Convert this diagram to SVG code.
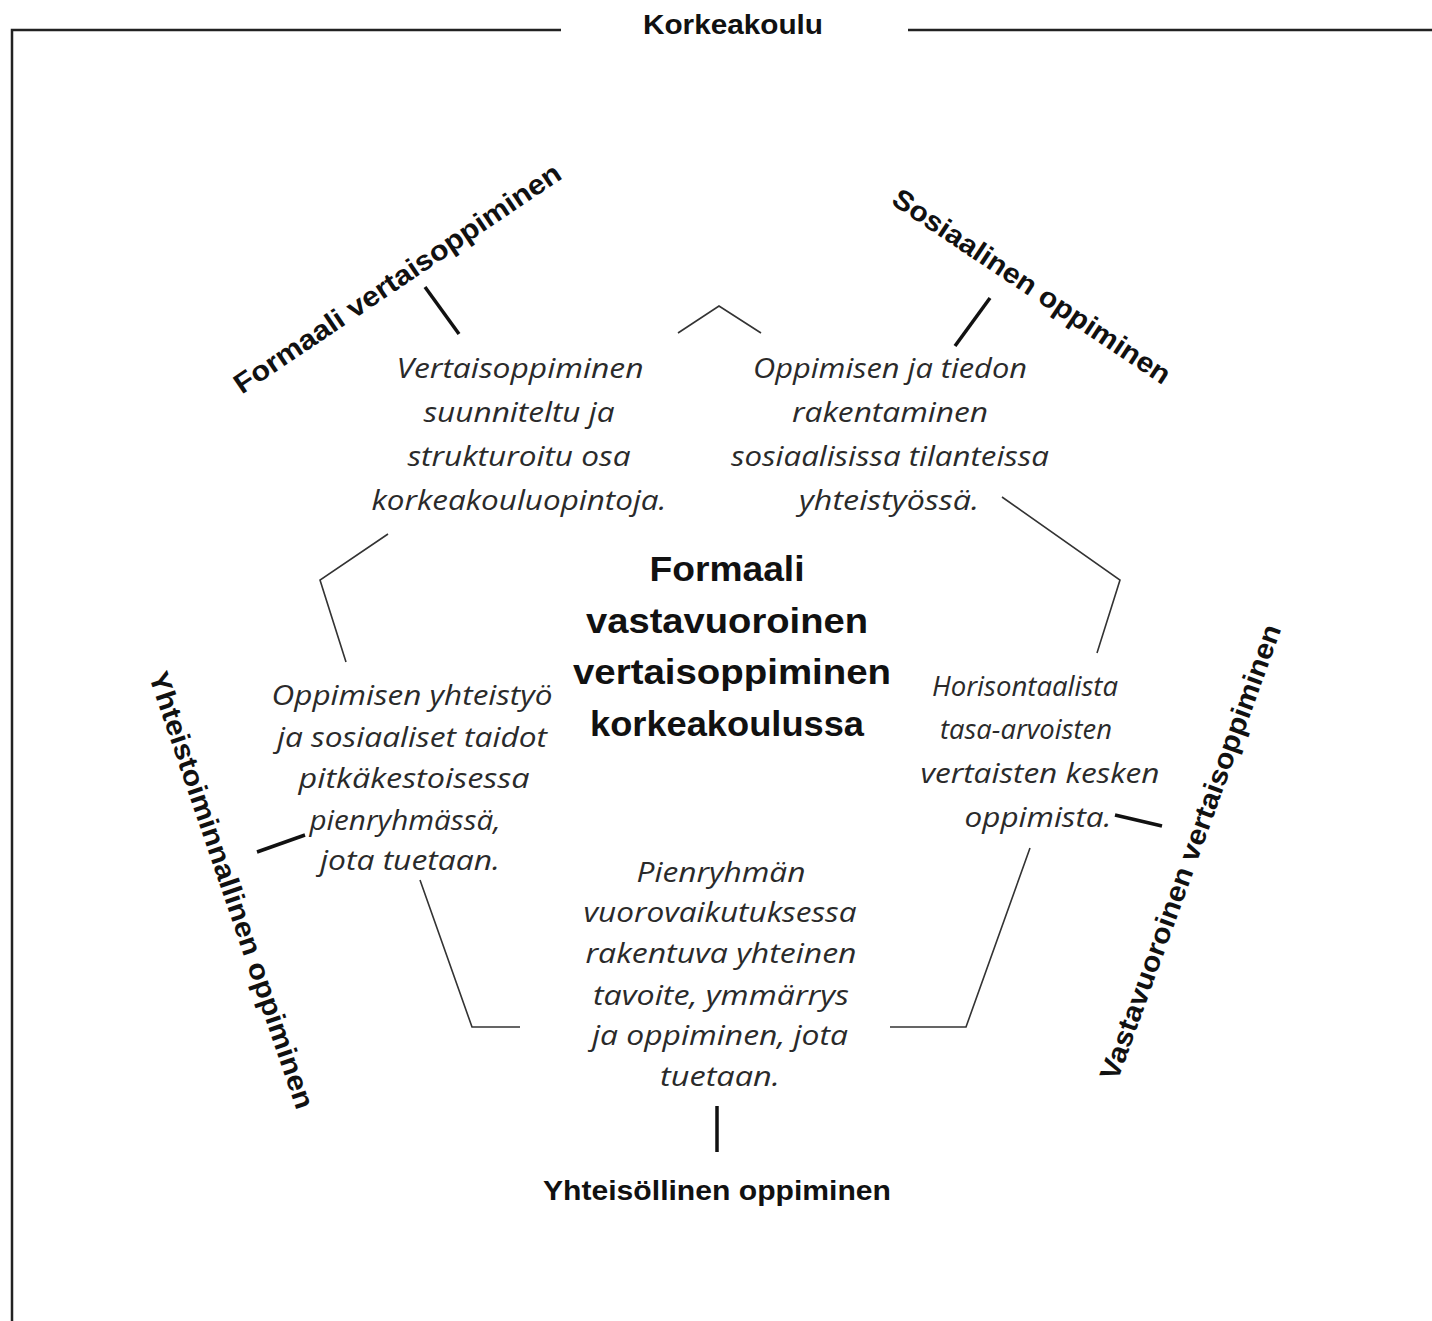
<svg xmlns="http://www.w3.org/2000/svg" width="1432" height="1321" viewBox="0 0 1432 1321">
  <style>
    .frame { stroke: #222; stroke-width: 2.5; fill: none; }
    .conn { stroke: #333; stroke-width: 1.6; fill: none; stroke-linejoin: miter; }
    .tick { stroke: #111; stroke-width: 3.5; fill: none; }
    .lbl { font-family: "Liberation Sans", Arial, sans-serif; font-weight: bold; font-size: 28px; fill: #111; text-anchor: middle; }
    .ctr { font-family: "Liberation Sans", Arial, sans-serif; font-weight: bold; font-size: 35px; fill: #111; text-anchor: middle; }
    .it { font-family: "Open Sans", "Noto Sans", sans-serif; font-style: italic; font-size: 27.5px; fill: #2a2a2a; text-anchor: middle; }
  </style>
  <rect width="1432" height="1321" fill="#ffffff"/>

  <g id="frame">
    <path class="frame" d="M12,1321 V30 H561"/>
    <path class="frame" d="M908,30 H1432"/>
    <text class="lbl" x="733" y="34" textLength="180" lengthAdjust="spacingAndGlyphs">Korkeakoulu</text>
  </g>

  <g id="connectors">
    <polyline class="conn" points="678,333 719,306 761,333"/>
    <polyline class="conn" points="1002,497 1120,580 1097,653"/>
    <polyline class="conn" points="1030,848 966,1027 890,1027"/>
    <polyline class="conn" points="420,880 472,1027 520,1027"/>
    <polyline class="conn" points="388,534 320,580 346,662"/>
    <line class="tick" x1="425" y1="287" x2="459" y2="334"/>
    <line class="tick" x1="990" y1="298" x2="955" y2="346"/>
    <line class="tick" x1="257" y1="852" x2="305" y2="835"/>
    <line class="tick" x1="1115" y1="815" x2="1162" y2="826"/>
    <line class="tick" x1="717" y1="1106" x2="717" y2="1152"/>
  </g>

  <g id="center">
    <text class="ctr" x="727" y="581" textLength="155" lengthAdjust="spacingAndGlyphs">Formaali</text>
    <text class="ctr" x="727" y="633" textLength="282" lengthAdjust="spacingAndGlyphs">vastavuoroinen</text>
    <text class="ctr" x="732" y="684" textLength="318" lengthAdjust="spacingAndGlyphs">vertaisoppiminen</text>
    <text class="ctr" x="727" y="736" textLength="274" lengthAdjust="spacingAndGlyphs">korkeakoulussa</text>
  </g>

  <g id="label-formaali">
    <text class="lbl" transform="translate(397,278) rotate(-34)" y="10" textLength="388" lengthAdjust="spacingAndGlyphs">Formaali vertaisoppiminen</text>
  </g>
  <g id="label-sosiaalinen">
    <text class="lbl" transform="translate(1032,286) rotate(33.7)" y="10" textLength="328" lengthAdjust="spacingAndGlyphs">Sosiaalinen oppiminen</text>
  </g>
  <g id="label-yhteistoiminnallinen">
    <text class="lbl" transform="translate(232,890) rotate(71.2)" y="10" textLength="460" lengthAdjust="spacingAndGlyphs">Yhteistoiminnallinen oppiminen</text>
  </g>
  <g id="label-vastavuoroinen">
    <text class="lbl" transform="translate(1190,852) rotate(-70.1)" y="10" textLength="482" lengthAdjust="spacingAndGlyphs">Vastavuoroinen vertaisoppiminen</text>
  </g>
  <g id="label-yhteisollinen">
    <text class="lbl" x="717" y="1200" textLength="348" lengthAdjust="spacingAndGlyphs">Yhteisöllinen oppiminen</text>
  </g>

  <g id="node-formaali">
    <text class="it" x="520" y="378" textLength="247" lengthAdjust="spacingAndGlyphs">Vertaisoppiminen</text>
    <text class="it" x="519" y="422" textLength="191" lengthAdjust="spacingAndGlyphs">suunniteltu ja</text>
    <text class="it" x="519" y="466" textLength="223" lengthAdjust="spacingAndGlyphs">strukturoitu osa</text>
    <text class="it" x="519" y="510" textLength="295" lengthAdjust="spacingAndGlyphs">korkeakouluopintoja.</text>
  </g>
  <g id="node-sosiaalinen">
    <text class="it" x="890" y="378" textLength="274" lengthAdjust="spacingAndGlyphs">Oppimisen ja tiedon</text>
    <text class="it" x="890" y="422" textLength="196" lengthAdjust="spacingAndGlyphs">rakentaminen</text>
    <text class="it" x="890" y="466" textLength="318" lengthAdjust="spacingAndGlyphs">sosiaalisissa tilanteissa</text>
    <text class="it" x="889" y="510" textLength="180" lengthAdjust="spacingAndGlyphs">yhteistyössä.</text>
  </g>
  <g id="node-yhteistoiminnallinen">
    <text class="it" x="412" y="705" textLength="281" lengthAdjust="spacingAndGlyphs">Oppimisen yhteistyö</text>
    <text class="it" x="412" y="747" textLength="270" lengthAdjust="spacingAndGlyphs">ja sosiaaliset taidot</text>
    <text class="it" x="414" y="788" textLength="231" lengthAdjust="spacingAndGlyphs">pitkäkestoisessa</text>
    <text class="it" x="405" y="830" textLength="191" lengthAdjust="spacingAndGlyphs">pienryhmässä,</text>
    <text class="it" x="410" y="870" textLength="180" lengthAdjust="spacingAndGlyphs">jota tuetaan.</text>
  </g>
  <g id="node-vastavuoroinen">
    <text class="it" x="1025" y="696" textLength="186" lengthAdjust="spacingAndGlyphs">Horisontaalista</text>
    <text class="it" x="1026" y="739" textLength="172" lengthAdjust="spacingAndGlyphs">tasa-arvoisten</text>
    <text class="it" x="1040" y="783" textLength="239" lengthAdjust="spacingAndGlyphs">vertaisten kesken</text>
    <text class="it" x="1038" y="827" textLength="147" lengthAdjust="spacingAndGlyphs">oppimista.</text>
  </g>
  <g id="node-yhteisollinen">
    <text class="it" x="721" y="882" textLength="169" lengthAdjust="spacingAndGlyphs">Pienryhmän</text>
    <text class="it" x="720" y="922" textLength="273" lengthAdjust="spacingAndGlyphs">vuorovaikutuksessa</text>
    <text class="it" x="721" y="963" textLength="271" lengthAdjust="spacingAndGlyphs">rakentuva yhteinen</text>
    <text class="it" x="721" y="1005" textLength="256" lengthAdjust="spacingAndGlyphs">tavoite, ymmärrys</text>
    <text class="it" x="720" y="1045" textLength="256" lengthAdjust="spacingAndGlyphs">ja oppiminen, jota</text>
    <text class="it" x="720" y="1086" textLength="120" lengthAdjust="spacingAndGlyphs">tuetaan.</text>
  </g>
</svg>
